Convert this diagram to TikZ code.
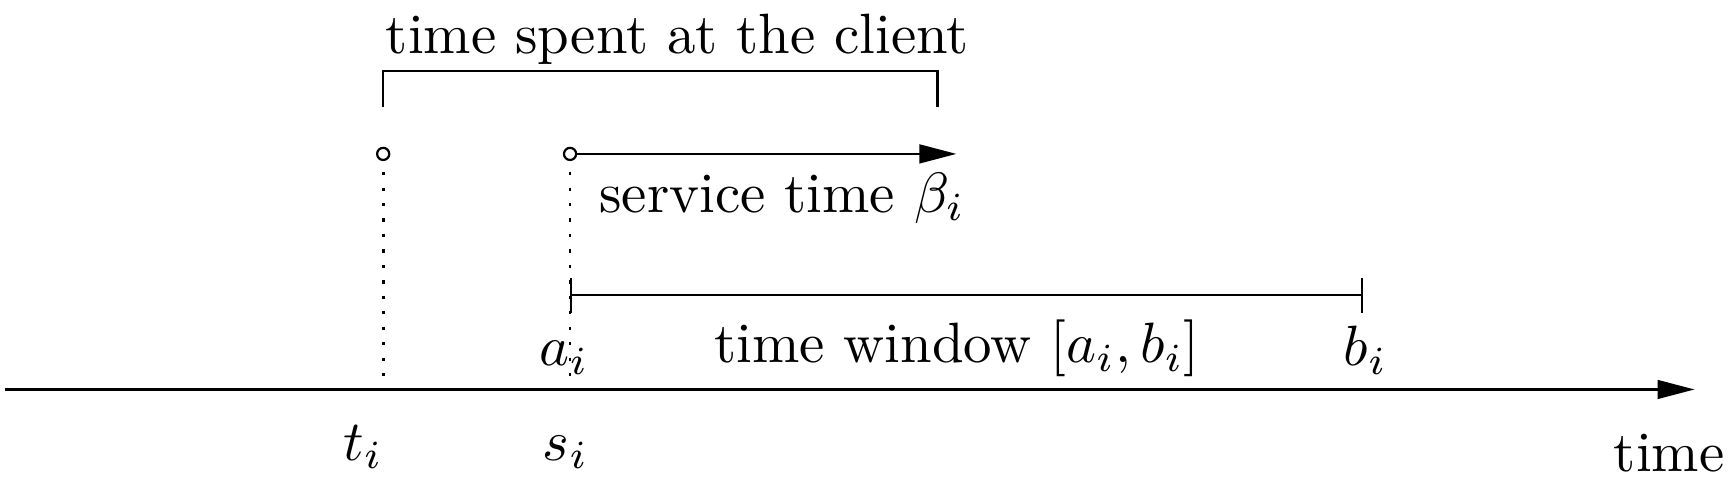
\documentclass[tikz,border=0pt]{standalone}
\usepackage{amsmath}
\usepackage{amssymb}
\usetikzlibrary{arrows.meta}

\begin{document}
\begin{tikzpicture}[
    opendot/.style={draw,circle,inner sep=0pt,minimum size=2.2pt},
    lbl/.style={anchor=base west,inner sep=0pt,scale=1.03},
    dots/.style={line width=0.5pt,dash pattern=on 0.6pt off 2.2pt},
    tip/.style={-{Triangle[length=6.7pt,width=3.4pt]}},
    window/.style={{Bar[width=6.3pt]}-{Bar[width=6.3pt]}}]
  \useasboundingbox (-0.03,-0.57) rectangle (10.98,2.48);
  % time axis
  \coordinate (O) at (0,0);
  \coordinate (E) at (10.76,0);
  \draw[tip] (O) -- (E);
  \node[lbl] (time) at (10.24,-0.52) {time};
  % arrival t_i and start of service s_i
  \node[opendot] (T) at (2.41,1.50) {};
  \node[opendot] (S) at (3.60,1.50) {};
  \draw[dots] ([yshift=-0.07cm]T.south) -- (T |- O);
  \draw[dots] ([yshift=-0.07cm]S.south) -- (S |- O);
  \node[lbl] (ti) at (2.15,-0.45) {$t_i$};
  \node[lbl] (si) at (3.42,-0.45) {$s_i$};
  % service time
  \coordinate (Send) at (6.06,1.50);
  \draw[tip] (S) -- (Send);
  \node[lbl] (beta) at (3.78,1.13) {service time $\beta_i$};
  % time spent at the client
  \coordinate (L) at (2.41,1.80);
  \coordinate (R) at (5.94,1.80);
  \draw (L) -- (L |- 0,2.03) -- (R |- 0,2.03) -- (R);
  \node[lbl] (spent) at (2.42,2.14) {time spent at the client};
  % time window
  \coordinate (A) at (3.60,0.60);
  \coordinate (B) at (8.65,0.60);
  \draw[window] (A) -- (B);
  \node[lbl] (ai) at (3.40,0.15) {$a_i$};
  \node[lbl] (bi) at (8.52,0.15) {$b_i$};
  \node[lbl] (tw) at (4.51,0.17) {time window $[a_i,b_i]$};
\end{tikzpicture}
\end{document}
